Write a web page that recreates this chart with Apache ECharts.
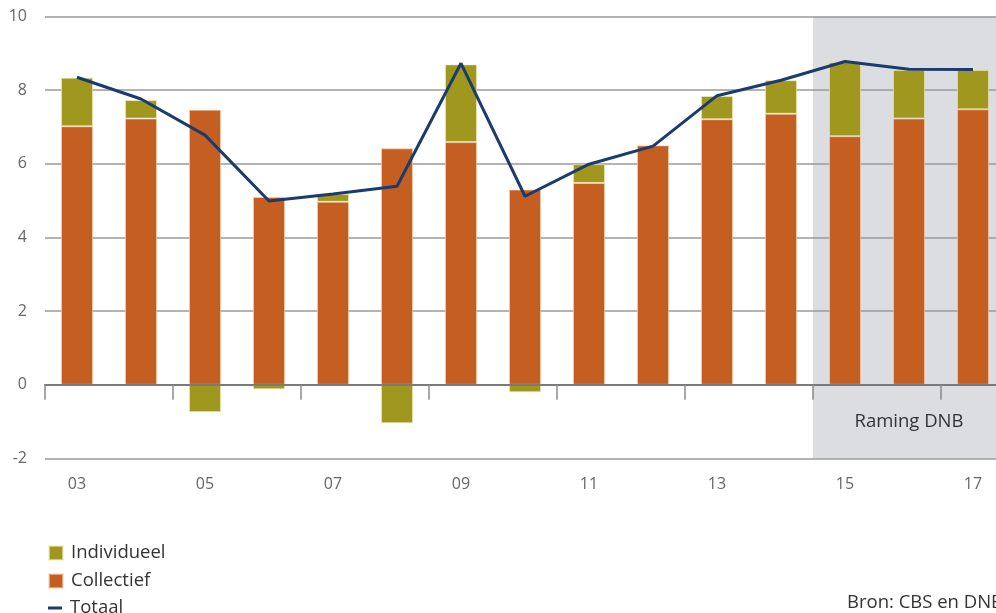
<!DOCTYPE html>
<html>
<head>
<meta charset="utf-8">
<style>
  html, body { margin: 0; padding: 0; background: #fff; overflow: hidden; }
  #chart { width: 1010px; height: 613px; }
</style>
<script src="https://cdn.jsdelivr.net/npm/echarts@6/dist/echarts.min.js"></script>
</head>
<body>
<div id="chart"></div>
<script>
// Jaren (2003 t/m 2017)
const jaren = ['03','04','05','06','07','08','09','10','11','12','13','14','15','16','17'];
// Bijdragen in procentpunten
const collectief  = [7.02, 7.23, 7.47, 5.10, 4.97, 6.42, 6.59, 5.30, 5.48, 6.50, 7.21, 7.36, 6.75, 7.23, 7.48];
const individueel = [1.32, 0.50, -0.74, -0.12, 0.21, -1.04, 2.11, -0.20, 0.51, 0.00, 0.63, 0.91, 2.01, 1.32, 1.07];
const totaal      = [8.35, 7.76, 6.78, 4.99, 5.18, 5.39, 8.73, 5.12, 5.99, 6.48, 7.85, 8.27, 8.78, 8.57, 8.56];
// Ramingsperiode (2015-2017): grijs vlak over de volle hoogte van de as
const ramingBoven = [null, null, null, null, null, null, null, null, null, null, null, null, 10, 10, 10];
const ramingOnder = [null, null, null, null, null, null, null, null, null, null, null, null, -2, -2, -2];
const ramingLabel = 'Raming DNB';
const bron = 'Bron: CBS en DNB';

const FONT = 'Open Sans';
const chart = echarts.init(document.getElementById('chart'));

const legendText = { fontFamily: FONT, fontSize: 18.5, lineHeight: 20, color: '#333', padding: [0, 0, 0, 3] };

chart.setOption({
  animation: false,
  textStyle: { fontFamily: FONT },
  grid: { left: 45, top: 16.5, width: 960, height: 442 },
  legend: [
    { left: 43, top: 538, itemWidth: 14, itemHeight: 14, selectedMode: false, textStyle: legendText,
      data: [{ name: 'Individueel', icon: 'rect' }] },
    { left: 43, top: 566, itemWidth: 14, itemHeight: 14, selectedMode: false, textStyle: legendText,
      data: [{ name: 'Collectief', icon: 'rect' }] },
    { left: 43, top: 593, itemWidth: 14, itemHeight: 3, selectedMode: false, textStyle: legendText,
      data: [{ name: 'Totaal', icon: 'rect' }] }
  ],
  xAxis: [
    {
      type: 'category',
      data: jaren,
      z: 5,
      axisLine: { onZero: true, lineStyle: { color: '#7a7a7a', width: 2 } },
      axisTick: { show: true, interval: 1, length: 15, lineStyle: { color: '#8a8a8a', width: 1.5 } },
      axisLabel: { show: false }
    },
    {
      type: 'category',
      data: jaren,
      position: 'bottom',
      axisLine: { show: false, onZero: false },
      axisTick: { show: false },
      axisLabel: { interval: 1, margin: 18, fontFamily: FONT, fontSize: 16, color: '#666' }
    }
  ],
  yAxis: {
    type: 'value',
    min: -2,
    max: 10,
    interval: 2,
    z: 1,
    axisLine: { show: false },
    axisTick: { show: false },
    axisLabel: { margin: 18, fontFamily: FONT, fontSize: 16, color: '#666' },
    splitLine: { lineStyle: { color: '#9a9a9a', width: 1.5 } }
  },
  graphic: [
    {
      type: 'text',
      left: 847,
      top: 593,
      style: { text: bron, fontFamily: FONT, fontSize: 18.5, fill: '#333' }
    }
  ],
  series: [
    {
      name: 'raming-boven',
      type: 'bar',
      xAxisIndex: 1,
      stack: 'raming',
      barWidth: '100%',
      z: -1,
      silent: true,
      data: ramingBoven,
      itemStyle: { color: '#dcdde0' }
    },
    {
      name: 'raming-onder',
      type: 'bar',
      xAxisIndex: 1,
      stack: 'raming',
      barWidth: '100%',
      z: -1,
      silent: true,
      data: ramingOnder,
      itemStyle: { color: '#dcdde0' },
      label: {
        show: true,
        position: 'inside',
        fontFamily: FONT,
        fontSize: 18.5,
        color: '#333',
        formatter: p => (jaren[p.dataIndex] === '16' ? ramingLabel : '')
      }
    },
    {
      name: 'Collectief',
      type: 'bar',
      stack: 'bijdrage',
      barWidth: 32,
      data: collectief,
      itemStyle: { color: '#c55f21', borderColor: 'rgba(240,215,190,0.6)', borderWidth: 1 }
    },
    {
      name: 'Individueel',
      type: 'bar',
      stack: 'bijdrage',
      barWidth: 32,
      data: individueel,
      itemStyle: { color: '#a0981e', borderColor: 'rgba(240,235,190,0.6)', borderWidth: 1 }
    },
    {
      name: 'Totaal',
      type: 'line',
      data: totaal,
      symbol: 'none',
      z: 6,
      lineStyle: { color: '#1b3a6e', width: 3 },
      itemStyle: { color: '#1b3a6e' }
    }
  ]
});
</script>
</body>
</html>
